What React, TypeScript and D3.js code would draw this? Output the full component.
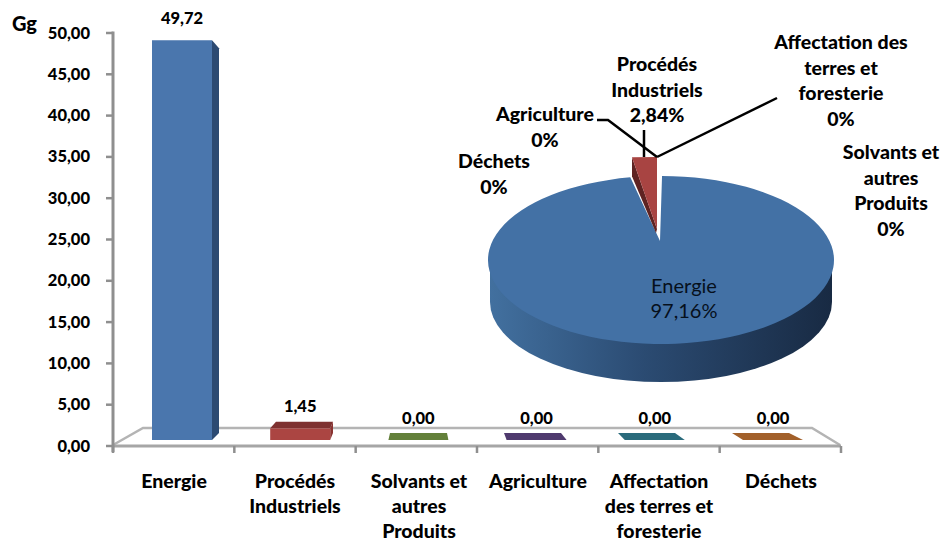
import React from "react";
import * as d3 from "d3";

const categories = ["Energie", "Procédés Industriels", "Solvants et autres Produits", "Agriculture", "Affectation des terres et foresterie", "Déchets"];
const axisLabelLines = [["Energie"], ["Procédés", "Industriels"], ["Solvants et", "autres", "Produits"], ["Agriculture"], ["Affectation", "des terres et", "foresterie"], ["Déchets"]];
const emissions = [49.72, 1.45, 0, 0, 0, 0];
const shares = [97.16, 2.84, 0, 0, 0, 0];
const yTicks = [0, 5, 10, 15, 20, 25, 30, 35, 40, 45, 50];
const frontColors = ["#4a76ad", "#ab4542", "#76933c", "#5c4080", "#31798c", "#b36b2f"];
const topColors = ["#3c6291", "#7e3130", "#63803a", "#4f3a6e", "#2a6b7c", "#a2602a"];
const sideColors = ["#2c4a72", "#8a3331", "#5a7030", "#47315f", "#256070", "#8c5225"];

const FONT = "Lato, Carlito, 'Open Sans', sans-serif";
const fr = (v: number, digits: number) => v.toFixed(digits).replace(".", ",");

// Value axis as printed, and the slightly shorter scale of the bars standing on the floor.
const yAxis = d3.scaleLinear().domain([0, 50]).range([446, 33]);
const yBar = d3.scaleLinear().domain([0, 50]).range([440, 38]);
const xBar = d3.scalePoint<string>().domain(categories).range([182, 773]);
const xTicks = d3.scalePoint<number>().domain(d3.range(7)).range([113, 841]);
const labelX = [174, 295, 419, 538, 659, 781];
const barWidth = 60;
// Perspective: the depth offset of a bar edge depends on where it sits in the scene.
const depthX = d3.scaleLinear().domain([182, 773]).range([10, -11]);
const depthY = d3.scaleLinear().domain([440, 40]).range([-7, 8]);

// Pie geometry
const pieCx = 661, pieCy = 260, pieRx = 173, pieRy = 84;
const apex: [number, number] = [660, 241];
const arcs = d3.pie<number>().sort(null)(shares);
const rim = (a: number, cx: number, cy: number, rx: number, ry: number): [number, number] => [cx + rx * Math.sin(a), cy - ry * Math.cos(a)];
const energy = arcs[0];
const industry = arcs[1];
const eS = rim(energy.startAngle + 0.006, pieCx, pieCy, pieRx, pieRy);
const eE = rim(energy.endAngle, pieCx, pieCy, pieRx, pieRy);
const energyPath = `M${apex[0]},${apex[1]} L${eS[0]},${eS[1]} A${pieRx} ${pieRy} 0 1 1 ${eE[0]},${eE[1]} Z`;
const redCx = 657, redCy = 165, redRx = 141, redRy = 8;
const rS = rim(industry.startAngle, redCx, redCy, redRx, redRy);
const rE = rim(industry.endAngle, redCx, redCy, redRx, redRy);
const redTop = `M657,229 L${rS[0]},${rS[1]} A${redRx} ${redRy} 0 0 1 ${rE[0]},${rE[1]} Z`;
const redSide = `M${rS[0]},${rS[1]} L${rS[0]},${rS[1] + 19} L656,233 L657,229 Z`;

const pieLabels = [
  { lines: ["Procédés", "Industriels", `${fr(shares[1], 2)}%`], x: 657, y: 71 },
  { lines: ["Agriculture", `${shares[3]}%`], x: 545, y: 121 },
  { lines: ["Déchets", `${shares[5]}%`], x: 494, y: 168 },
  { lines: ["Affectation des", "terres et", "foresterie", `${shares[4]}%`], x: 841, y: 49 },
  { lines: ["Solvants et", "autres", "Produits", `${shares[2]}%`], x: 891, y: 159 },
];

export default function App() {
  return (
    <svg width={942} height={542} style={{ position: "absolute", left: 0, top: 0, display: "block", background: "#fff" }} fontFamily={FONT}>
      <defs>
        <linearGradient id="pieWall" x1="0" x2="1" y1="0" y2="0">
          <stop offset="0" stopColor="#42709f" />
          <stop offset="0.45" stopColor="#2b4b72" />
          <stop offset="1" stopColor="#182a43" />
        </linearGradient>
      </defs>

      {/* Floor of the 3D bar chart */}
      <path d="M113,445 L143,428 L812,428 L840,445" fill="none" stroke="#b4b4b4" strokeWidth={2.5} />
      <path d="M113,446 H841" stroke="#a6a6a6" strokeWidth={3} />
      <path d="M113,31.5 V452" stroke="#8f8f8f" strokeWidth={3} fill="none" />
      {yTicks.map((t) => (
        <g key={t}>
          <path d={`M106,${yAxis(t)} H113`} stroke="#8f8f8f" strokeWidth={2.5} />
          <text x={90} y={yAxis(t) + 5.5} textAnchor="end" fontSize={16.5} fontWeight={900}>{fr(t, 2)}</text>
        </g>
      ))}
      {d3.range(7).map((i) => (
        <path key={i} d={`M${xTicks(i)},446 V453`} stroke="#8f8f8f" strokeWidth={2.5} />
      ))}
      <text x={12} y={31} fontSize={20} fontWeight={900}>Gg</text>

      {/* Bars, placed by their centre on the point scale */}
      {categories.map((c, i) => {
        const cx = xBar(c)!;
        const x0 = cx - barWidth / 2;
        const x1 = cx + barWidth / 2;
        const base = yBar(0);
        const top = yBar(emissions[i]);
        const dl = depthX(cx);
        const dr = depthX(cx) - 3;
        const tb = top + depthY(top);
        const bb = base + depthY(base);
        return (
          <g key={c}>
            {dr > 0 && <polygon points={`${x1},${top} ${x1 + dr},${tb} ${x1 + dr},${bb} ${x1},${base}`} fill={sideColors[i]} />}
            {top > 100 && <polygon points={`${x0},${top} ${x0 + dl},${tb} ${x1 + dr},${tb} ${x1},${top}`} fill={topColors[i]} />}
            <rect x={x0} y={top} width={barWidth} height={base - top} fill={frontColors[i]} />
            <text x={cx} y={top - 16.5} textAnchor="middle" fontSize={16.5} fontWeight={900}>{fr(emissions[i], 2)}</text>
          </g>
        );
      })}

      {/* Category labels */}
      {axisLabelLines.map((lines, i) => (
        <text key={i} textAnchor="middle" fontSize={19.5} fontWeight={900}>
          {lines.map((l, j) => (
            <tspan key={j} x={labelX[i]} y={488 + j * 25}>{l}</tspan>
          ))}
        </text>
      ))}

      {/* Exploded 3D pie */}
      <path d={`M490,270 L490,302 A171 80 0 0 0 832,302 L832,270 Z`} fill="url(#pieWall)" />
      <path d={energyPath} fill="#4371a5" />
      <path d={redSide} fill="#5e2322" />
      <path d={redTop} fill="#a84442" />

      {/* Leader lines */}
      <g fill="none" stroke="#000" strokeWidth={2.5}>
        <path d="M597,120 H608 L657,157" />
        <path d="M644,130 V157" />
        <path d="M657,157 L777,98" />
      </g>

      {pieLabels.map((l, i) => (
        <text key={i} textAnchor="middle" fontSize={19.5} fontWeight={900}>
          {l.lines.map((t, j) => (
            <tspan key={j} x={l.x} y={l.y + j * 25.5}>{t}</tspan>
          ))}
        </text>
      ))}
      <text textAnchor="middle" fontSize={20} fill="#06101c">
        <tspan x={684} y={293}>Energie</tspan>
        <tspan x={684} y={318}>{fr(shares[0], 2)}%</tspan>
      </text>
    </svg>
  );
}
